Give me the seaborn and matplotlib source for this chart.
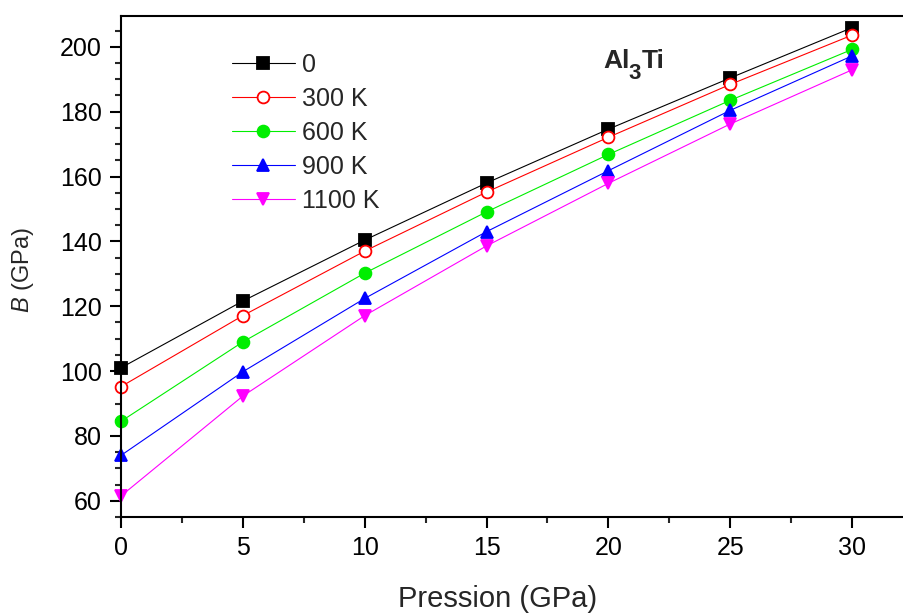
import matplotlib
matplotlib.use("Agg")
import matplotlib.pyplot as plt
import seaborn as sns
import pandas as pd
from matplotlib.ticker import MultipleLocator

pressure = [0, 5, 10, 15, 20, 25, 30]
labels = ["0", "300 K", "600 K", "900 K", "1100 K"]
b_0 = [101.0, 121.6, 140.4, 158.0, 174.6, 190.4, 205.9]
b_300 = [95.2, 117.1, 137.0, 155.2, 172.1, 188.4, 203.6]
b_600 = [84.5, 109.0, 130.2, 149.1, 166.8, 183.5, 199.2]
b_900 = [74.0, 99.8, 122.4, 143.0, 161.8, 180.4, 197.2]
b_1100 = [61.5, 92.3, 117.1, 138.6, 157.9, 176.2, 192.9]
series = [b_0, b_300, b_600, b_900, b_1100]

colors = ["#000000", "#ff0000", "#00ee00", "#0000ff", "#ff00ff"]
markers = ["s", "o", "o", "^", "v"]
faces = ["#000000", "#ffffff", "#00ee00", "#0000ff", "#ff00ff"]

sns.set_style("ticks")
plt.rcParams["font.family"] = ["Liberation Sans", "DejaVu Sans"]
plt.rcParams["mathtext.fontset"] = "custom"
plt.rcParams["mathtext.rm"] = "Liberation Sans"
plt.rcParams["mathtext.it"] = "Liberation Sans:italic"
plt.rcParams["mathtext.bf"] = "Liberation Sans:bold"

fig = plt.figure(figsize=(9.04, 6.14), dpi=100)
ax = fig.add_axes([121 / 904, 1 - 517 / 614, 1 - 121 / 904 + 0.01, (517 - 16) / 614])

for lab, vals, c, m, fc in zip(labels, series, colors, markers, faces):
    df = pd.DataFrame({"P": pressure, "B": vals})
    sns.lineplot(data=df, x="P", y="B", ax=ax, color=c, lw=0.8, marker=m,
                 markersize=8.5, markerfacecolor=fc, markeredgecolor=c,
                 markeredgewidth=1.3, label=lab, clip_on=False)

ax.set_xlim(0, 32.5)
ax.set_ylim(55, 209.5)
ax.xaxis.set_major_locator(MultipleLocator(5))
ax.xaxis.set_minor_locator(MultipleLocator(2.5))
ax.yaxis.set_major_locator(MultipleLocator(20))
ax.yaxis.set_minor_locator(MultipleLocator(5))
ax.set_yticks(range(60, 201, 20))
ax.tick_params(axis="both", which="major", direction="out", length=8, width=1.5,
               labelsize=18, pad=6, colors="black")
ax.tick_params(axis="both", which="minor", direction="out", length=4.5, width=1.5)
for s in ["left", "bottom", "top"]:
    ax.spines[s].set_linewidth(1.5)
    ax.spines[s].set_color("black")
ax.spines["right"].set_visible(False)

ax.set_xlabel("Pression (GPa)", fontsize=21)
ax.xaxis.set_label_coords(0.475, -0.136)
ax.set_ylabel("$B$ (GPa)", fontsize=17)
ax.yaxis.set_label_coords(-0.107, 0.493)

# Al3Ti annotation with a large lowered subscript
renderer = fig.canvas.get_renderer()
base_y = 1 - 68 / 614
t1 = fig.text(603 / 904, base_y, "Al", fontsize=19, fontweight="bold",
              va="baseline", ha="left")
w1 = t1.get_window_extent(renderer).width
t2 = fig.text(603 / 904 + (w1 - 1) / 904, base_y - 11 / 614, "3", fontsize=16,
              fontweight="bold", va="baseline", ha="left")
w2 = t2.get_window_extent(renderer).width
t3 = fig.text(603 / 904 + (w1 + w2) / 904, base_y, "Ti", fontsize=19,
              fontweight="bold", va="baseline", ha="left")

leg = ax.legend(loc="upper left", bbox_to_anchor=(232 / 904, 1 - 53 / 614),
                bbox_transform=fig.transFigure, frameon=False, fontsize=18,
                handlelength=2.5, handletextpad=0.3, labelspacing=0.4,
                borderaxespad=0, borderpad=0)

fig.savefig("out.png", dpi=100)
